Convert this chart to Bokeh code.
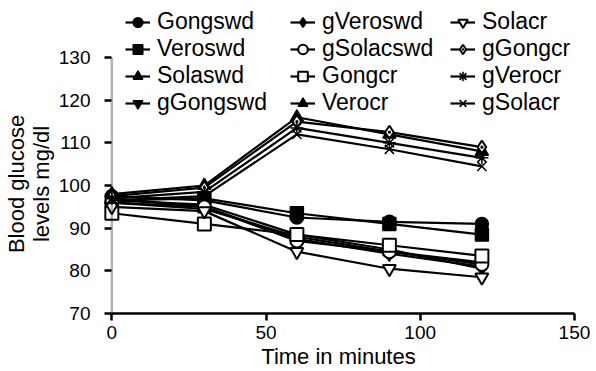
from bokeh.plotting import figure
from bokeh.models import Legend, LegendItem, LinearAxis, Range1d, FixedTicker, BoxAnnotation
from bokeh.embed import file_html
from bokeh.resources import INLINE

time_min = [0, 30, 60, 90, 120]

gongswd = [97.5, 96.5, 92.5, 91.5, 91.0]
veroswd = [96.5, 97.0, 93.5, 91.0, 88.5]
solaswd = [96.0, 94.5, 88.0, 84.5, 82.0]
ggongswd = [97.0, 95.0, 87.5, 84.0, 81.0]
gveroswd = [96.5, 95.5, 88.5, 85.0, 80.5]
gsolacswd = [96.0, 95.0, 87.0, 84.5, 81.5]
gongcr = [93.5, 91.0, 88.5, 86.0, 83.5]
verocr = [98.0, 100.0, 116.0, 112.0, 108.0]
solacr = [95.0, 94.0, 84.5, 80.5, 78.5]
ggongcr = [97.5, 99.5, 115.0, 112.5, 109.0]
gverocr = [97.0, 98.5, 113.5, 110.0, 106.5]
gsolacr = [96.5, 97.5, 112.0, 108.5, 104.5]

names = ["Gongswd", "Veroswd", "Solaswd", "gGongswd",
         "gVeroswd", "gSolacswd", "Gongcr", "Verocr",
         "Solacr", "gGongcr", "gVerocr", "gSolacr"]
values = [gongswd, veroswd, solaswd, ggongswd,
          gveroswd, gsolacswd, gongcr, verocr,
          solacr, ggongcr, gverocr, gsolacr]
# marker, filled
styles = [("circle", True), ("square", True), ("triangle", True), ("inverted_triangle", True),
          ("diamond", True), ("circle", False), ("square", False), ("triangle", True),
          ("inverted_triangle", False), ("diamond_dot", False), ("asterisk", True), ("x", True)]

x_ticks = [0, 50, 100, 150]
y_ticks = [70, 80, 90, 100, 110, 120, 130]

FONT = "Liberation Sans"
NB = "\u00a0" * 8

p = figure(width=596, height=371, output_backend="svg", toolbar_location=None,
           x_range=Range1d(-4, 151), y_range=Range1d(70, 142.2),
           x_axis_location=None, y_axis_location=None,
           min_border_left=96, min_border_right=19, min_border_top=5, min_border_bottom=58)
p.outline_line_color = None
p.xgrid.visible = False
p.ygrid.visible = False

xaxis = LinearAxis(bounds=(0, 150), ticker=FixedTicker(ticks=x_ticks), axis_label="Time in minutes")
yaxis = LinearAxis(ticker=FixedTicker(ticks=y_ticks),
                   axis_label="Blood glucose" + NB + "\nlevels mg/dl" + NB)
for ax in (xaxis, yaxis):
    ax.axis_line_width = 2.5
    ax.major_tick_line_width = 2.5
    ax.minor_tick_out = 0
    ax.minor_tick_in = 0
    ax.major_label_text_font = FONT
    ax.major_label_text_font_size = "19px"
    ax.major_label_text_color = "black"
    ax.axis_label_text_font = FONT
    ax.axis_label_text_font_size = "22px"
    ax.axis_label_text_font_style = "normal"
    ax.axis_label_text_color = "black"
    ax.axis_label_text_line_height = 1.0
    ax.axis_label_standoff = 2
xaxis.major_tick_out = 7
xaxis.major_tick_in = 0
xaxis.major_label_standoff = 5
xaxis.axis_label_standoff = 2
# y axis sits at the frame edge (x=-4); its line is drawn at x=0 by an annotation,
# and its ticks are shifted inward so they end on that line.
yaxis.axis_line_color = None
yaxis.major_tick_in = 12
yaxis.major_tick_out = -5
yaxis.major_label_standoff = 9
p.add_layout(xaxis, "below")
p.add_layout(yaxis, "left")
p.add_layout(BoxAnnotation(left=x_ticks[0], right=x_ticks[0], bottom=y_ticks[0], top=y_ticks[-1],
                           fill_alpha=0, line_color="black", line_width=2.5))

items = []
for name, vals, (mk, filled) in zip(names, values, styles):
    ln = p.line(time_min, vals, line_color="black", line_width=2.2)
    sc = p.scatter(time_min, vals, marker=mk, size=13,
                   line_color="black", line_width=2 if not filled else 1.5,
                   fill_color="black" if filled else "white")
    items.append(LegendItem(label=name, renderers=[ln, sc]))

locs = [(26, 197), (191, 197), (351, 197)]
for i, loc in enumerate(locs):
    lg = Legend(items=items[i * 4:(i + 1) * 4], location=loc, orientation="vertical")
    lg.border_line_color = None
    lg.background_fill_alpha = 0
    lg.padding = 0
    lg.margin = 0
    lg.spacing = 0
    lg.label_height = 24
    lg.glyph_height = 24
    lg.glyph_width = 25
    lg.label_standoff = 7
    lg.label_text_font = FONT
    lg.label_text_font_size = "23px"
    lg.label_text_line_height = 0.9
    lg.label_text_color = "black"
    p.add_layout(lg, "center")

open("out.html", "w").write(file_html(p, INLINE))
